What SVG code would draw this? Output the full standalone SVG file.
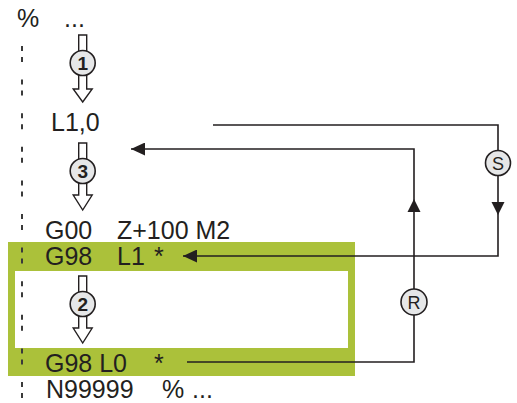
<svg xmlns="http://www.w3.org/2000/svg" width="517" height="403" viewBox="0 0 517 403">
<style>
.t{font-family:"Liberation Sans",Arial,sans-serif;font-size:25px;fill:#231f20}
.n{font-family:"Liberation Sans",Arial,sans-serif;font-size:19px;font-weight:bold;fill:#231f20;text-anchor:middle}
.c{font-family:"Liberation Sans",Arial,sans-serif;font-size:18px;fill:#231f20;text-anchor:middle}
.ln{fill:none;stroke:#231f20;stroke-width:1.6}
.hollow{fill:#fff;stroke:#231f20;stroke-width:1.4}
.circ{fill:#e6e7e8;stroke:#231f20;stroke-width:1.6}
.dash{stroke:#3a3a3a;stroke-width:2;stroke-dasharray:5 6 5 17.6}
</style>
<defs>
<marker id="ah" viewBox="0 0 14 13" refX="14" refY="6.5" markerWidth="14" markerHeight="13" markerUnits="userSpaceOnUse" orient="auto">
<path d="M0,0 L14,6.5 L0,13 Z" fill="#231f20"/>
</marker>
</defs>
<rect width="517" height="403" fill="#fff"/>
<g id="frame">
<path d="M8,242 H355 V376 H8 Z M15,271 V348 H348 V271 Z" fill="#abc13a" fill-rule="evenodd"/>
</g>
<line class="dash" x1="22" y1="46" x2="22" y2="402"/>
<g id="line-start"><text class="t" x="17" y="27">%</text><text class="t" x="64" y="27">...</text></g>
<g id="line-L10"><text class="t" x="51" y="131">L1,0</text></g>
<g id="line-G00"><text class="t" x="45" y="239">G00</text><text class="t" x="117" y="239">Z+100 M2</text></g>
<g id="line-G98L1"><text class="t" x="45" y="265">G98</text><text class="t" x="117" y="265">L1</text><text class="t" x="154" y="265">*</text></g>
<g id="line-G98L0"><text class="t" x="45" y="372">G98 L0</text><text class="t" x="154" y="372">*</text></g>
<g id="line-end"><text class="t" x="46" y="398">N99999</text><text class="t" x="162" y="398">%</text><text class="t" x="192" y="398">...</text></g>
<g id="step1">
<path class="hollow" d="M78.7,35 H86.7 V89 H92.2 L82.7,102 L73.2,89 H78.7 Z"/>
<circle class="circ" cx="82.7" cy="63" r="12.5"/>
<text class="n" x="82.7" y="69.5">1</text>
</g>
<g id="step3">
<path class="hollow" d="M78.7,143 H86.7 V195 H92.2 L82.7,210 L73.2,195 H78.7 Z"/>
<circle class="circ" cx="82.7" cy="171" r="12.5"/>
<text class="n" x="82.7" y="177.5">3</text>
</g>
<g id="step2">
<path class="hollow" d="M78.7,276 H86.7 V328 H92.2 L82.7,343 L73.2,328 H78.7 Z"/>
<circle class="circ" cx="82.7" cy="304" r="12.5"/>
<text class="n" x="82.7" y="310.5">2</text>
</g>
<g id="connectors">
<path class="ln" d="M213,125 H498 V256 H183" marker-end="url(#ah)"/>
<path class="ln" d="M187,362 H414 V149 H131" marker-end="url(#ah)"/>
<path d="M491.5,202 H504.5 L498,215 Z" fill="#231f20"/>
<path d="M407.5,212 H420.5 L414,199 Z" fill="#231f20"/>
</g>
<g id="node-S"><circle class="circ" cx="498" cy="163" r="12.5"/><text class="c" x="498" y="169.5">S</text></g>
<g id="node-R"><circle class="circ" cx="414" cy="302" r="13"/><text class="c" x="414" y="308.5">R</text></g>
</svg>
